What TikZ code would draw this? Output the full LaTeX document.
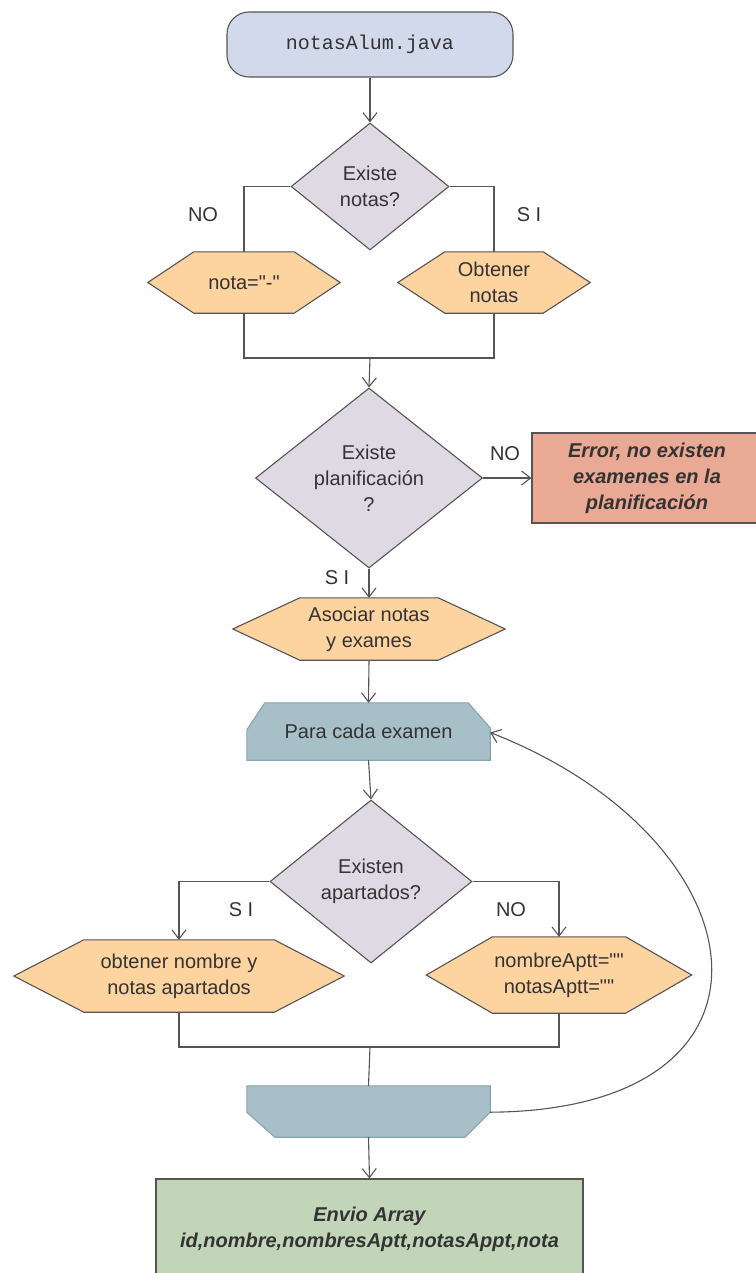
\documentclass[tikz,border=0pt]{standalone}
\usepackage{fontspec}
\setmainfont{Liberation Sans}
\newfontfamily\codefont{Liberation Mono}
\usetikzlibrary{shapes.geometric,arrows.meta,backgrounds}

\definecolor{txt}{HTML}{333333}
\definecolor{edge}{HTML}{555555}
\definecolor{startfill}{HTML}{D2D9EB}
\definecolor{decfill}{HTML}{DFD9E3}
\definecolor{hexfill}{HTML}{FDD3A0}
\definecolor{errfill}{HTML}{E9A994}
\definecolor{loopfill}{HTML}{A7C0C7}
\definecolor{loopedge}{HTML}{86A5AD}
\definecolor{endfill}{HTML}{C2D5B9}

\tikzset{
  every node/.style={text=txt, font=\fontsize{20}{26}\selectfont},
  box/.style={inner sep=0pt, align=center},
  lbl/.style={inner sep=0pt},
  decision/.style={diamond, draw=edge, fill=decfill, line width=1.1pt,
    inner sep=0pt, align=center},
  line/.style={draw=edge, line width=1.1pt},
  arr/.style={line, -{Straight Barb[length=9pt,width=14pt]}},
  hexstyle/.style={fill=hexfill, draw=edge, line width=1.1pt},
  loopstyle/.style={fill=loopfill, draw=loopedge, line width=1.1pt},
}

% straight double quote
\newcommand\dq{\textquotedbl}

% hexagon outline around a named rectangular node, #2 = depth of the points
\newcommand\hexagon[2]{%
  \path[hexstyle] (#1.west) -- ([xshift=#2]#1.north west)
    -- ([xshift=-#2]#1.north east) -- (#1.east)
    -- ([xshift=-#2]#1.south east) -- ([xshift=#2]#1.south west) -- cycle;}

\begin{document}
\begin{tikzpicture}[x=1pt,y=-1pt]
\useasboundingbox (0,0) rectangle (755,1273);

% start
\node[box, draw=edge, fill=startfill, line width=1.1pt, rounded corners=22pt,
  minimum width=286pt, minimum height=65pt, font=\codefont\fontsize{20}{24}\selectfont]
  (start) at (370,44.5) {notasAlum.java};

% first decision
\node[decision, minimum width=158pt, minimum height=127pt] (d1) at (370,186.5)
  {Existe\\notas?};
\node[box, minimum width=192pt, minimum height=61pt] (h1) at (244,282.5) {nota=\dq-\dq};
\node[box, minimum width=192pt, minimum height=61pt] (h2) at (494,282.5) {Obtener\\notas};
\coordinate (m1) at (370,358);

% second decision
\node[decision, minimum width=227pt, minimum height=180pt] (d2) at (369,478)
  {Existe\\planificación\\?};
\node[box, draw=edge, fill=errfill, line width=1.1pt, minimum width=230pt,
  minimum height=90pt, font=\fontsize{20}{26}\selectfont\bfseries\itshape]
  (err) at (647,478) {Error, no existen\\examenes en la\\planificación};
\node[box, minimum width=272pt, minimum height=62pt] (h3) at (369,629)
  {Asociar notas\\y exames};

% loop
\node[box, minimum width=243pt, minimum height=57pt] (lp) at (368.5,731.5) {Para cada examen};
\node[decision, minimum width=202pt, minimum height=163pt] (d3) at (371,881.5)
  {Existen\\apartados?};
\node[box, minimum width=330pt, minimum height=72pt] (h4) at (179,976)
  {obtener nombre y\\notas apartados};
\node[box, minimum width=265pt, minimum height=76pt] (h5) at (559,975)
  {nombreAptt=\dq\dq\\notasAptt=\dq\dq};
\coordinate (m2) at (370,1047);
\node[box, minimum width=243pt, minimum height=51pt] (le) at (368.5,1111.5) {};

% result
\node[box, draw=edge, fill=endfill, line width=1.1pt, minimum width=427pt,
  minimum height=100pt, font=\fontsize{20}{26}\selectfont\bfseries\itshape]
  (out) at (369.5,1229) {Envio Array\\id,nombre,nombresAptt,notasAppt,nota};

% branch labels
\node[lbl] (l1) at (203,215) {NO};
\node[lbl] (l2) at (529,215) {S I};
\node[lbl] (l3) at (505,454) {NO};
\node[lbl] (l4) at (337,578) {S I};
\node[lbl] (l5) at (241,910) {S I};
\node[lbl] (l6) at (511,910) {NO};

% filled outlines behind the text
\begin{scope}[on background layer]
  \hexagon{h1}{46pt}
  \hexagon{h2}{47pt}
  \hexagon{h3}{67pt}
  \hexagon{h4}{70pt}
  \hexagon{h5}{66pt}
  \path[loopstyle] (lp.south west) -- ([yshift=-27pt]lp.north west)
    -- ([xshift=18pt]lp.north west) -- ([xshift=-22pt]lp.north east)
    -- ([yshift=-25pt]lp.north east) -- (lp.south east) -- cycle;
  \path[loopstyle] (le.north west) -- (le.north east)
    -- ([yshift=25pt]le.south east) -- ([xshift=-25pt]le.south east)
    -- ([xshift=28pt]le.south west) -- ([yshift=25pt]le.south west) -- cycle;
\end{scope}

% connectors
\draw[arr] (start) -- (d1);
\draw[line] (d1.west) -| (h1.north);
\draw[line] (d1.east) -| (h2.north);
\draw[line] (h1.south) |- (h2.south |- m1) -- (h2.south);
\draw[arr] (m1) -- (d2.north);
\draw[arr] (d2.east) -- (err.west);
\draw[arr] (d2.south) -- (h3.north);
\draw[arr] (h3.south) -- (lp.north);
\draw[arr] (lp.south) -- (d3.north);
\draw[arr] (d3.west) -| (h4.north);
\draw[arr] (d3.east) -| (h5.north);
\draw[line] (h4.south) |- (h5.south |- m2) -- (h5.south);
\draw[line] (m2) -- (le.north);
\draw[arr] (le.south) -- (out.north);
\draw[arr] ([yshift=25pt]le.south east) .. controls (805,1110) and (765,840)
  .. ([yshift=-1pt]lp.east);
\end{tikzpicture}
\end{document}
